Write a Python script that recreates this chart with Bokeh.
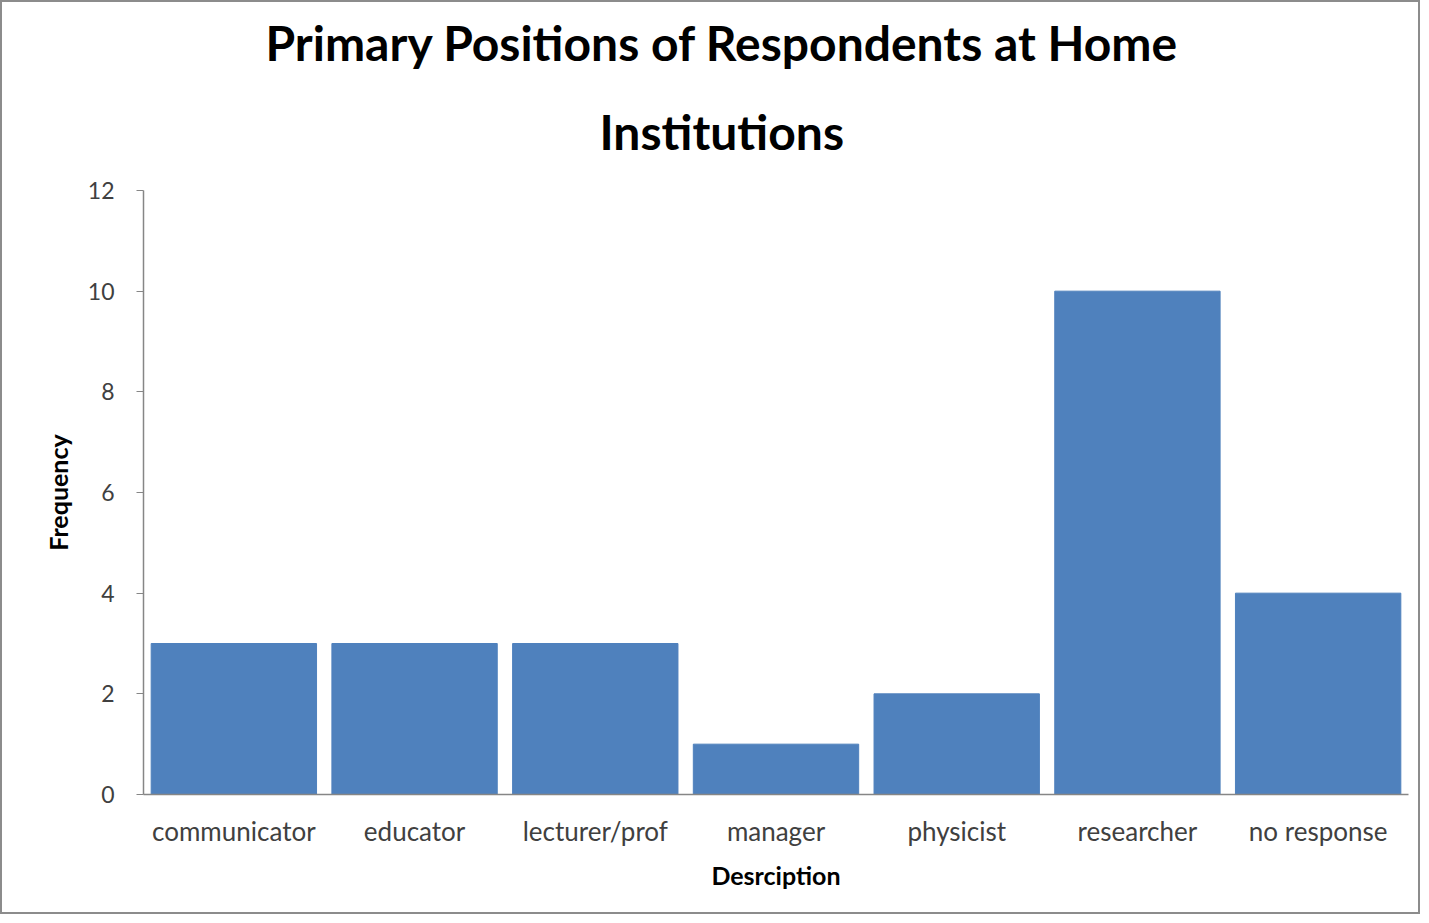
from bokeh.plotting import figure
from bokeh.models import Range1d, SingleIntervalTicker, Title
from bokeh.embed import file_html
from bokeh.resources import INLINE

categories = ["communicator", "educator", "lecturer/prof", "manager", "physicist", "researcher", "no response"]
frequencies = [3, 3, 3, 1, 2, 10, 4]
title_lines = ["Primary Positions of Respondents at Home", "Institutions"]

FONT = "Lato"

p = figure(x_range=categories, y_range=Range1d(0, 12),
           width=1420, height=914, output_backend="svg", toolbar_location=None,
           min_border_left=141, min_border_right=14, min_border_top=188, min_border_bottom=122)

p.vbar(x=categories, top=frequencies, width=0.915, color="#4F81BD")

# title lines: first added sits closest to the plot
t2 = Title(text=title_lines[1], align="left", text_font=FONT, text_font_size="48px",
           text_font_style="bold", text_color="#000000", standoff=61, offset=456)
t1 = Title(text=title_lines[0], align="left", text_font=FONT, text_font_size="48px",
           text_font_style="bold", text_color="#000000", standoff=0, offset=122)
p.add_layout(t2, "above")
p.add_layout(t1, "above")

p.outline_line_color = None
p.xgrid.grid_line_color = None
p.ygrid.grid_line_color = None
p.background_fill_color = "white"
p.border_fill_color = "white"
p.styles = {"border": "2px solid #8c8c8c", "box-sizing": "border-box"}

for ax in (p.xaxis[0], p.yaxis[0]):
    ax.axis_line_color = "#868686"
    ax.axis_line_width = 1.5
    ax.major_label_text_font = FONT
    ax.major_label_text_color = "#404040"
    ax.axis_label_text_font = FONT
    ax.axis_label_text_font_style = "bold"
    ax.axis_label_text_color = "#000000"
    ax.minor_tick_line_color = None

p.xaxis.major_tick_line_color = None
p.xaxis.major_label_text_font_size = "26px"
p.xaxis.major_label_standoff = 14
p.xaxis.axis_label = "Desrciption"
p.xaxis.axis_label_text_font_size = "25px"
p.xaxis.axis_label_standoff = 10

p.yaxis.ticker = SingleIntervalTicker(interval=2)
p.yaxis.major_tick_out = 7
p.yaxis.major_tick_in = 0
p.yaxis.major_tick_line_color = "#868686"
p.yaxis.major_label_text_font_size = "23px"
p.yaxis.major_label_standoff = 22
p.yaxis.axis_label = "Frequency"
p.yaxis.axis_label_text_font_size = "25px"
p.yaxis.axis_label_standoff = 12

open("out.html", "w").write(file_html(p, INLINE))
